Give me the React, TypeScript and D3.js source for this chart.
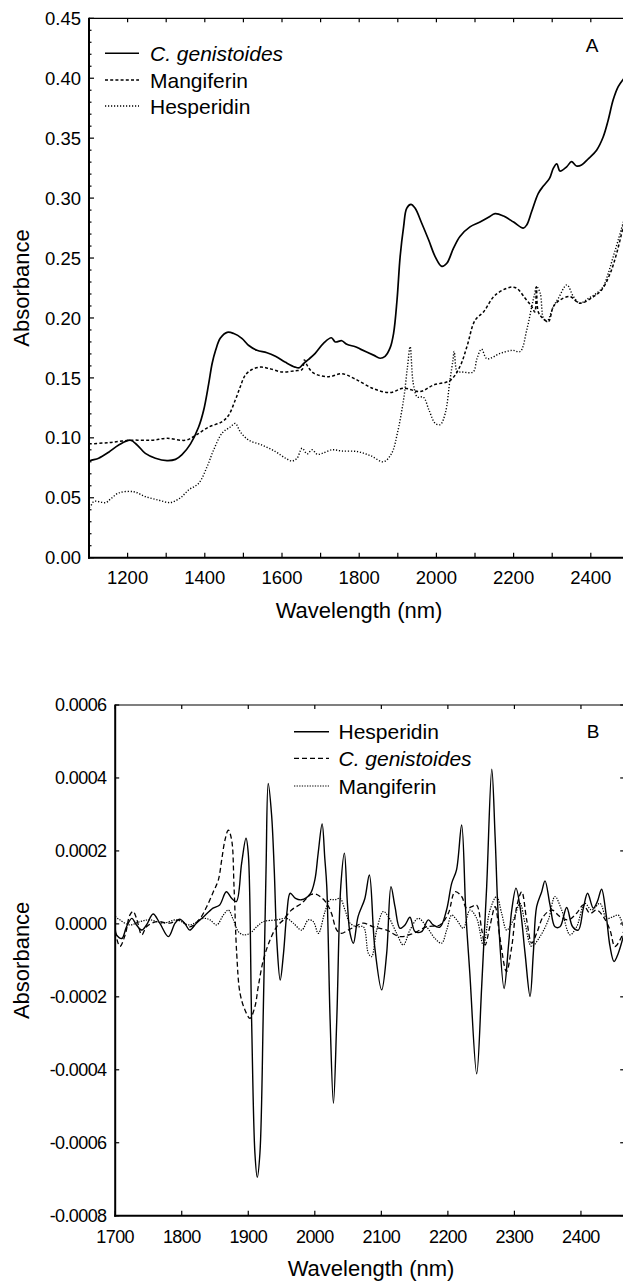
import React from "react";
import * as d3 from "d3";

// ---------- Panel A data (wavelength nm, absorbance) ----------
const A_CGEN: [number, number][] = [
  [1100,0.080],[1104,0.081],[1125,0.083],[1151,0.088],[1177,0.094],[1207,0.098],[1225,0.094],[1246,0.087],[1272,0.083],[1302,0.081],[1324,0.082],[1341,0.086],[1363,0.095],[1384,0.109],[1397,0.123],[1410,0.145],[1419,0.162],[1428,0.173],[1440,0.183],[1458,0.188],[1475,0.187],[1496,0.183],[1514,0.177],[1535,0.173],[1561,0.171],[1583,0.168],[1609,0.163],[1634,0.159],[1645,0.1585],[1656,0.162],[1669,0.1655],[1686,0.1705],[1708,0.179],[1728,0.1835],[1738,0.180],[1755,0.181],[1768,0.178],[1790,0.176],[1803,0.174],[1837,0.169],[1854,0.1664],[1867,0.168],[1880,0.175],[1889,0.187],[1898,0.215],[1906,0.251],[1915,0.276],[1923,0.2915],[1934,0.2948],[1945,0.2915],[1962,0.279],[1980,0.265],[1997,0.251],[2014,0.243],[2027,0.2456],[2044,0.258],[2061,0.268],[2087,0.276],[2113,0.280],[2135,0.284],[2152,0.287],[2174,0.285],[2200,0.280],[2225,0.275],[2234,0.2776],[2247,0.289],[2264,0.304],[2277,0.310],[2293,0.3165],[2303,0.325],[2312,0.3285],[2320,0.3226],[2338,0.3263],[2350,0.3304],[2363,0.3268],[2376,0.3276],[2394,0.333],[2415,0.340],[2432,0.351],[2445,0.365],[2458,0.382],[2471,0.393],[2486,0.400]
];
const A_MANG: [number, number][] = [
  [1100,0.095],[1104,0.095],[1151,0.096],[1207,0.098],[1263,0.098],[1302,0.0996],[1350,0.098],[1376,0.102],[1410,0.109],[1445,0.1135],[1462,0.119],[1479,0.1315],[1492,0.1427],[1505,0.1524],[1522,0.157],[1544,0.159],[1565,0.158],[1600,0.155],[1634,0.156],[1652,0.157],[1658,0.165],[1666,0.160],[1682,0.154],[1721,0.151],[1755,0.1535],[1790,0.149],[1837,0.141],[1880,0.1378],[1915,0.1414],[1958,0.1386],[1992,0.144],[2036,0.148],[2061,0.1595],[2079,0.176],[2100,0.198],[2122,0.205],[2152,0.219],[2191,0.2256],[2208,0.2248],[2230,0.2164],[2247,0.2095],[2255,0.205],[2259,0.226],[2264,0.205],[2275,0.200],[2290,0.197],[2303,0.2095],[2320,0.215],[2346,0.2178],[2372,0.2123],[2407,0.2178],[2428,0.2234],[2450,0.237],[2467,0.254],[2486,0.279]
];
const A_HESP: [number, number][] = [
  [1100,0.042],[1104,0.043],[1113,0.047],[1143,0.046],[1156,0.049],[1177,0.054],[1216,0.055],[1246,0.051],[1281,0.048],[1311,0.046],[1337,0.050],[1358,0.0565],[1384,0.062],[1406,0.076],[1423,0.090],[1445,0.104],[1466,0.109],[1479,0.112],[1492,0.105],[1514,0.098],[1548,0.094],[1583,0.0885],[1609,0.083],[1626,0.0807],[1639,0.083],[1652,0.0913],[1665,0.0866],[1678,0.090],[1691,0.0863],[1704,0.087],[1729,0.090],[1755,0.089],[1796,0.0885],[1830,0.085],[1863,0.080],[1884,0.087],[1899,0.104],[1915,0.132],[1925,0.159],[1932,0.176],[1940,0.1455],[1951,0.134],[1966,0.134],[1981,0.123],[1997,0.112],[2010,0.111],[2023,0.1205],[2035,0.148],[2043,0.165],[2046,0.172],[2054,0.155],[2064,0.155],[2095,0.155],[2105,0.166],[2117,0.174],[2131,0.166],[2166,0.1705],[2197,0.173],[2217,0.172],[2234,0.190],[2247,0.2095],[2253,0.218],[2260,0.226],[2269,0.2206],[2277,0.200],[2286,0.197],[2303,0.2095],[2316,0.2164],[2338,0.2276],[2355,0.2178],[2372,0.2123],[2394,0.2164],[2415,0.2206],[2432,0.226],[2445,0.237],[2458,0.251],[2471,0.265],[2486,0.282]
];

// ---------- Panel B data (wavelength nm, absorbance in units of 1e-4) ----------
const B_UNIT = 1e-4;
const B_HESP: [number, number][] = [
  [1700,0.10],[1702,-0.30],[1710,-0.40],[1717,-0.08],[1725,0.15],[1732,-0.03],[1740,-0.17],[1747,-0.03],[1757,0.27],[1767,0.02],[1780,-0.35],[1790,0.02],[1797,0.13],[1805,0.0],[1812,-0.17],[1822,0.02],[1832,0.18],[1847,0.43],[1857,0.52],[1867,0.88],[1875,0.70],[1882,0.61],[1890,1.66],[1896.6,2.35],[1900,1.93],[1905,-2.63],[1910,-6.29],[1913.5,-6.95],[1917.5,-6.29],[1922.7,-2.27],[1926.7,1.48],[1930,3.85],[1935,3.0],[1939,1.5],[1943,-0.5],[1948,-1.54],[1953,-0.8],[1958,0.3],[1963,0.84],[1971,0.7],[1980,0.66],[1993,0.82],[2000,1.2],[2005,1.93],[2011,2.74],[2015,1.8],[2018,1.02],[2023,-2.63],[2028,-4.92],[2033,-2.63],[2039,1.02],[2044.5,1.94],[2049,0.56],[2053,-0.26],[2058,-0.53],[2065,0.20],[2075,0.68],[2082,1.34],[2090,-0.62],[2100.5,-1.81],[2108,-0.81],[2114.5,1.02],[2120.5,0.47],[2128,-0.12],[2135.5,-0.03],[2143,0.18],[2150.6,-0.21],[2160.6,-0.21],[2170.6,0.11],[2178,-0.03],[2188,-0.09],[2198,0.38],[2205.7,1.11],[2213,1.48],[2220.7,2.71],[2227,0.29],[2233,-1.36],[2243.3,-4.11],[2250.8,-1.72],[2258.3,1.02],[2266,4.24],[2271,2.39],[2276,0.11],[2284.5,-1.77],[2291,-0.62],[2296,0.38],[2302.4,0.98],[2308.4,0.47],[2316,-0.81],[2323.5,-1.99],[2328.4,-0.81],[2333.4,0.47],[2341,0.88],[2346,1.18],[2353.5,0.52],[2361,-0.08],[2368.5,-0.08],[2378.5,0.45],[2387.5,-0.08],[2396,-0.17],[2403.6,0.43],[2410,0.84],[2418.6,0.43],[2424.6,0.61],[2431,0.95],[2437.6,0.29],[2443.7,-0.62],[2449.7,-1.03],[2456,-0.81],[2465,-0.25]
];
const B_CGEN: [number, number][] = [
  [1700,-0.21],[1707,-0.62],[1715,-0.30],[1722,0.24],[1727,0.34],[1732,0.15],[1740,-0.30],[1747,-0.08],[1762,0.06],[1782,0.02],[1797,0.11],[1812,-0.08],[1827.5,0.15],[1837.5,0.47],[1847.5,0.88],[1855,1.20],[1860,1.75],[1865,2.30],[1870,2.57],[1875,2.30],[1878.6,1.02],[1882.6,-0.81],[1887.6,-1.90],[1895,-2.36],[1902.6,-2.59],[1910,-2.27],[1915,-1.72],[1922.7,-0.99],[1932.7,-0.44],[1942.7,-0.08],[1952.7,0.11],[1965,0.38],[1980,0.56],[1993,0.79],[2000,0.82],[2008,0.75],[2018,0.56],[2025,0.29],[2033,-0.17],[2040,-0.26],[2050,-0.17],[2060,-0.08],[2073,0.02],[2088,-0.08],[2108,-0.17],[2128,-0.35],[2148,-0.26],[2168,-0.08],[2188,-0.03],[2200.7,0.29],[2210.7,0.88],[2220.7,0.75],[2228,0.43],[2236,0.47],[2243,0.52],[2251,-0.17],[2256,-0.58],[2263,-0.08],[2271,0.47],[2278,-0.35],[2288,-1.31],[2296,-0.62],[2303.4,0.47],[2311,0.88],[2318.4,0.11],[2326,-0.53],[2333.4,-0.26],[2343.4,0.20],[2356,0.38],[2368.5,0.20],[2381,0.11],[2393.5,0.29],[2403.6,0.52],[2413.6,0.29],[2423.6,0.38],[2433.6,0.20],[2443.7,-0.17],[2451,-0.62],[2458.7,-0.44],[2465,-0.17]
];
const B_MANG: [number, number][] = [
  [1700,0.20],[1707,0.11],[1722,-0.03],[1737,0.06],[1752,0.11],[1772,0.02],[1792,0.11],[1812,-0.03],[1832.5,0.15],[1842.5,0.11],[1852.5,-0.03],[1862.5,0.24],[1870,0.38],[1877.6,0.11],[1885,-0.21],[1892.6,-0.30],[1902.6,-0.26],[1912.6,-0.08],[1922.7,0.06],[1942.7,0.11],[1957.7,0.15],[1967.7,0.02],[1980.3,-0.17],[1990.3,0.11],[1997.8,0.06],[2005.3,-0.26],[2015.4,0.34],[2022.9,0.66],[2030.4,0.66],[2037.9,0.70],[2045.4,0.38],[2052.9,0.02],[2063,-0.08],[2073,-0.08],[2080.5,-0.81],[2085.4,-0.90],[2093,-0.17],[2103,0.34],[2110.5,0.20],[2123,-0.26],[2133,-0.58],[2143,-0.17],[2155.6,0.15],[2168,-0.08],[2180.6,-0.40],[2190.6,-0.53],[2198.2,-0.17],[2205.7,0.24],[2213.2,0.11],[2223.2,-0.12],[2233.2,0.38],[2243.3,0.15],[2253.3,-0.58],[2263.3,0.38],[2273.3,0.75],[2280.8,0.29],[2288.3,-0.17],[2298.4,0.11],[2308.4,0.56],[2315.9,0.02],[2325.9,-0.62],[2338.4,-0.35],[2351,0.11],[2361,0.75],[2371,0.38],[2383.5,-0.30],[2393.5,-0.08],[2406,0.56],[2416,0.38],[2428.6,0.56],[2438.6,0.15],[2448.6,0.20],[2456.2,0.24],[2465,-0.17]
];

// ---------- tick definitions ----------
const A_XTICK_LABELS = [1200, 1400, 1600, 1800, 2000, 2200, 2400];
const A_XTICKS_ALL = [1200, 1300, 1400, 1500, 1600, 1700, 1800, 1900, 2000, 2100, 2200, 2300, 2400];
const A_YTICK_LABELS = [0, 0.05, 0.1, 0.15, 0.2, 0.25, 0.3, 0.35, 0.4, 0.45];
const B_XTICK_LABELS = [1700, 1800, 1900, 2000, 2100, 2200, 2300, 2400];
const B_YTICK_LABELS = [0.0006, 0.0004, 0.0002, 0, -0.0002, -0.0004, -0.0006, -0.0008];

const FONT = "'Liberation Sans', Arial, Helvetica, sans-serif";

export default function App() {
  // Panel A scales
  const xA = d3.scaleLinear().domain([1100, 2486]).range([89, 624]);
  const yA = d3.scaleLinear().domain([0, 0.45]).range([557.7, 18.3]);
  // Panel B scales
  const xB = d3.scaleLinear().domain([1700, 2465]).range([115.2, 624.2]);
  const yB = d3.scaleLinear().domain([-0.0008, 0.0006]).range([1215.7, 705]);

  const curve = d3.curveCatmullRom.alpha(0.5);
  const lineA = d3.line<[number, number]>().x(d => xA(d[0])).y(d => yA(d[1])).curve(curve);
  const lineB = d3.line<[number, number]>().x(d => xB(d[0])).y(d => yB(d[1] * B_UNIT)).curve(curve);

  const aMinorY = d3.range(0, 0.4501, 0.01);
  const aL = xA.range()[0], aR = xA.range()[1], aT = yA.range()[1], aB = yA.range()[0];
  const bL = xB.range()[0], bR = xB.range()[1], bT = yB.range()[1], bB = yB.range()[0];

  const tickStyle = { stroke: "#000", strokeWidth: 1.2 };

  return (
    <svg width={623} height={1281} style={{ position: "absolute", left: 0, top: 0, background: "#fff" }}
      fontFamily={FONT}>
      <rect x={0} y={0} width={623} height={1281} fill="#fff" />
      <defs>
        <clipPath id="clipA"><rect x={aL} y={aT} width={aR - aL} height={aB - aT} /></clipPath>
        <clipPath id="clipB"><rect x={bL} y={bT} width={bR - bL} height={bB - bT} /></clipPath>
      </defs>

      {/* ================= Panel A ================= */}
      <g clipPath="url(#clipA)" fill="none" stroke="#000">
        <path d={lineA(A_HESP) || ""} strokeWidth={1.4} strokeDasharray="1.2,1.8" />
        <path d={lineA(A_MANG) || ""} strokeWidth={1.5} strokeDasharray="3,2.2" />
        <path d={lineA(A_CGEN) || ""} strokeWidth={1.7} />
      </g>
      {/* frame */}
      <line x1={aL} x2={aR} y1={aT} y2={aT} stroke="#000" strokeWidth={1.2} />
      <line x1={aR} x2={aR} y1={aT} y2={aB} stroke="#000" strokeWidth={1.2} />
      <line x1={aL} x2={aL} y1={aT - 0.6} y2={aB + 1} stroke="#000" strokeWidth={2} />
      <line x1={aL - 1} x2={aR} y1={aB} y2={aB} stroke="#000" strokeWidth={2} />
      {/* x ticks */}
      {A_XTICKS_ALL.map(t => (
        <g key={"ax" + t}>
          <line x1={xA(t)} x2={xA(t)} y1={aB} y2={aB - 5} {...tickStyle} />
          <line x1={xA(t)} x2={xA(t)} y1={aT} y2={aT + 4} {...tickStyle} />
        </g>
      ))}
      {A_XTICK_LABELS.map(t => (
        <text key={"axl" + t} x={xA(t)} y={584} textAnchor="middle" fontSize={18.5}>{t}</text>
      ))}
      {/* y ticks */}
      {aMinorY.map((t, i) => (
        <line key={"aym" + i} x1={aL} x2={aL + (i % 5 === 0 ? 5 : 2.5)} y1={yA(t)} y2={yA(t)} {...tickStyle} />
      ))}
      {A_YTICK_LABELS.map(t => (
        <text key={"ayl" + t} x={81} y={yA(t)} dy="0.36em" textAnchor="end" fontSize={18.5}>{t.toFixed(2)}</text>
      ))}
      <text x={359} y={618} textAnchor="middle" fontSize={22}>Wavelength (nm)</text>
      <text transform={`translate(29,${(aT + aB) / 2}) rotate(-90)`} textAnchor="middle" fontSize={22}>Absorbance</text>
      <text x={592} y={51.5} textAnchor="middle" fontSize={19}>A</text>
      {/* legend A */}
      <g>
        <line x1={105} x2={139} y1={53.3} y2={53.3} stroke="#000" strokeWidth={1.6} />
        <line x1={105} x2={139} y1={80} y2={80} stroke="#000" strokeWidth={1.5} strokeDasharray="3,2.2" />
        <line x1={105} x2={139} y1={106} y2={106} stroke="#000" strokeWidth={1.3} strokeDasharray="1.2,1.8" />
        <text x={150} y={53.3} dy="0.36em" fontSize={21} fontStyle="italic">C. genistoides</text>
        <text x={150} y={80} dy="0.36em" fontSize={21}>Mangiferin</text>
        <text x={150} y={106} dy="0.36em" fontSize={21}>Hesperidin</text>
      </g>

      {/* ================= Panel B ================= */}
      <g clipPath="url(#clipB)" fill="none" stroke="#000">
        <path d={lineB(B_MANG) || ""} strokeWidth={1.2} strokeDasharray="1.3,1.3" />
        <path d={lineB(B_CGEN) || ""} strokeWidth={1.3} strokeDasharray="5,3" />
        <path d={lineB(B_HESP) || ""} strokeWidth={1.4} />
      </g>
      <line x1={bL} x2={bR} y1={bT} y2={bT} stroke="#000" strokeWidth={1.2} />
      <line x1={bR} x2={bR} y1={bT} y2={bB} stroke="#000" strokeWidth={1.2} />
      <line x1={bL} x2={bL} y1={bT - 0.6} y2={bB + 1} stroke="#000" strokeWidth={2} />
      <line x1={bL - 1} x2={bR} y1={bB} y2={bB} stroke="#000" strokeWidth={2} />
      {B_XTICK_LABELS.map(t => (
        <g key={"bx" + t}>
          <line x1={xB(t)} x2={xB(t)} y1={bB} y2={bB - 5} {...tickStyle} />
          <line x1={xB(t)} x2={xB(t)} y1={bT} y2={bT + 4} {...tickStyle} />
          <text x={xB(t)} y={1242.7} textAnchor="middle" fontSize={18} letterSpacing={-0.6}>{t}</text>
        </g>
      ))}
      {B_YTICK_LABELS.map(t => (
        <g key={"by" + t}>
          <line x1={bL} x2={bL + 4} y1={yB(t)} y2={yB(t)} {...tickStyle} />
          <line x1={bR} x2={bR - 4} y1={yB(t)} y2={yB(t)} {...tickStyle} />
          <text x={106.5} y={yB(t)} dy="0.36em" textAnchor="end" fontSize={18} letterSpacing={-0.6}>{t.toFixed(4)}</text>
        </g>
      ))}
      <text x={371} y={1276} textAnchor="middle" fontSize={22}>Wavelength (nm)</text>
      <text transform={`translate(29,${(bT + bB) / 2}) rotate(-90)`} textAnchor="middle" fontSize={22}>Absorbance</text>
      <text x={593} y={738.3} textAnchor="middle" fontSize={19}>B</text>
      {/* legend B */}
      <g>
        <line x1={294} x2={329} y1={731.7} y2={731.7} stroke="#000" strokeWidth={1.4} />
        <line x1={294} x2={329} y1={758.3} y2={758.3} stroke="#000" strokeWidth={1.3} strokeDasharray="5,3" />
        <line x1={294} x2={329} y1={786} y2={786} stroke="#000" strokeWidth={1.2} strokeDasharray="1.3,1.3" />
        <text x={338.5} y={731.7} dy="0.36em" fontSize={21}>Hesperidin</text>
        <text x={338.5} y={758.3} dy="0.36em" fontSize={21} fontStyle="italic">C. genistoides</text>
        <text x={338.5} y={786} dy="0.36em" fontSize={21}>Mangiferin</text>
      </g>
    </svg>
  );
}
